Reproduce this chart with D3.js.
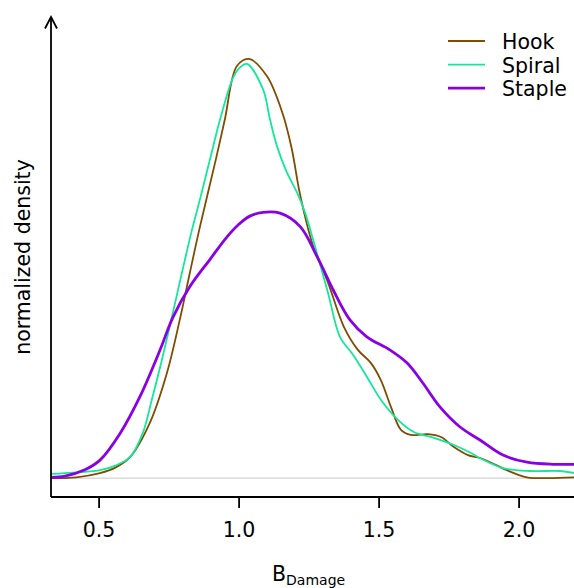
<!DOCTYPE html>
<html>
<head>
<meta charset="utf-8">
<script src="https://cdn.jsdelivr.net/npm/d3@7"></script>
<style>
  body { margin: 0; background: #fff; }
  svg { font-family: "DejaVu Sans", sans-serif; }
</style>
</head>
<body>
<div id="chart"></div>
<script>
// data (x = B_Damage, y = normalized density)
const hookX = [0.33, 0.42, 0.505, 0.56, 0.612, 0.683, 0.744, 0.79, 0.826, 0.862, 0.919, 0.951, 0.994, 1.037, 1.101, 1.158, 1.19, 1.219, 1.265, 1.319, 1.376, 1.426, 1.472, 1.508, 1.544, 1.58, 1.615, 1.676, 1.723, 1.769, 1.819, 1.862, 1.898, 1.958, 2.03, 2.101, 2.2];
const hookY = [0, 0.002, 0.012, 0.025, 0.05, 0.132, 0.251, 0.378, 0.49, 0.6, 0.761, 0.856, 0.983, 1.0, 0.959, 0.868, 0.785, 0.678, 0.556, 0.467, 0.361, 0.306, 0.275, 0.234, 0.17, 0.115, 0.103, 0.105, 0.098, 0.074, 0.055, 0.048, 0.038, 0.019, 0.002, 0, 0.002];

const spiralX = [0.33, 0.38, 0.505, 0.56, 0.612, 0.658, 0.69, 0.726, 0.762, 0.797, 0.833, 0.862, 0.898, 0.934, 0.98, 1.005, 1.03, 1.087, 1.112, 1.137, 1.172, 1.208, 1.237, 1.269, 1.319, 1.362, 1.408, 1.458, 1.508, 1.569, 1.626, 1.698, 1.769, 1.83, 1.87, 1.944, 2.04, 2.148, 2.2];
const spiralY = [0.01, 0.012, 0.019, 0.03, 0.05, 0.108, 0.187, 0.282, 0.385, 0.488, 0.591, 0.665, 0.761, 0.856, 0.955, 0.98, 0.988, 0.928, 0.856, 0.792, 0.73, 0.682, 0.634, 0.562, 0.443, 0.337, 0.295, 0.242, 0.187, 0.139, 0.11, 0.096, 0.079, 0.06, 0.045, 0.024, 0.017, 0.017, 0.012];

const stapleX = [0.33, 0.38, 0.451, 0.505, 0.576, 0.648, 0.719, 0.765, 0.826, 0.898, 0.958, 1.0, 1.04, 1.087, 1.148, 1.22, 1.28, 1.337, 1.397, 1.458, 1.54, 1.601, 1.658, 1.719, 1.791, 1.862, 1.944, 2.03, 2.123, 2.2];
const stapleY = [0.002, 0.005, 0.02, 0.043, 0.106, 0.195, 0.305, 0.383, 0.457, 0.522, 0.575, 0.605, 0.625, 0.634, 0.632, 0.6, 0.529, 0.45, 0.378, 0.337, 0.306, 0.275, 0.227, 0.17, 0.122, 0.091, 0.055, 0.038, 0.033, 0.033];

const seriesNames = ["Hook", "Spiral", "Staple"];
const seriesColors = ["#7f4c00", "#14e79a", "#8a00e6"];
const seriesWidths = [1.8, 1.8, 2.8];
const xTicks = [0.5, 1.0, 1.5, 2.0];

const series = [
  { name: seriesNames[0], xs: hookX, ys: hookY },
  { name: seriesNames[1], xs: spiralX, ys: spiralY },
  { name: seriesNames[2], xs: stapleX, ys: stapleY },
];

const W = 574, H = 588;
const margin = { top: 17, left: 51, bottom: 91 };
const fontSize = 20.5;

const svg = d3.select("#chart").append("svg")
  .attr("width", W).attr("height", H);

const x = d3.scaleLinear().domain([0.33, 2.2]).range([margin.left, margin.left + 1.87 * 280]);
const y = d3.scaleLinear().domain([-0.045, 1.10]).range([H - margin.bottom, margin.top]);

// zero baseline
svg.append("line")
  .attr("x1", x(0.33)).attr("x2", W)
  .attr("y1", y(0)).attr("y2", y(0))
  .attr("stroke", "#c8c8c8").attr("stroke-width", 1);

const line = d3.line()
  .x(d => x(d[0]))
  .y(d => y(d[1]))
  .curve(d3.curveCatmullRom.alpha(0.5));

series.forEach((s, i) => {
  const pts = s.xs.map((v, k) => [v, s.ys[k]]);
  svg.append("path")
    .attr("d", line(pts))
    .attr("fill", "none")
    .attr("stroke", seriesColors[i])
    .attr("stroke-width", seriesWidths[i]);
});

// bottom axis
const xAxis = svg.append("g")
  .attr("transform", `translate(0,${H - margin.bottom})`)
  .call(d3.axisBottom(x).tickValues(xTicks).tickFormat(d3.format(".1f")).tickSize(11).tickPadding(14));
xAxis.select(".domain").attr("d", `M${x(0.33)},0H${W}`).attr("stroke", "#000").attr("stroke-width", 1.8);
xAxis.selectAll(".tick line").attr("stroke", "#000").attr("stroke-width", 1.8);
xAxis.selectAll(".tick text").attr("font-size", fontSize).attr("font-family", "DejaVu Sans").attr("fill", "#000");

// left axis with arrow
svg.append("line")
  .attr("x1", x(0.33)).attr("x2", x(0.33))
  .attr("y1", y(-0.045)).attr("y2", y(1.10))
  .attr("stroke", "#000").attr("stroke-width", 1.8);
svg.append("path")
  .attr("d", `M${x(0.33) - 6},${y(1.10) + 11.5}L${x(0.33)},${y(1.10)}L${x(0.33) + 6},${y(1.10) + 11.5}`)
  .attr("fill", "none").attr("stroke", "#000").attr("stroke-width", 1.8);

// axis labels
svg.append("text")
  .attr("transform", `translate(30,257) rotate(-90)`)
  .attr("text-anchor", "middle")
  .attr("font-size", fontSize)
  .text("normalized density");

const xl = svg.append("text")
  .attr("x", 272).attr("y", 581)
  .attr("font-size", fontSize);
xl.append("tspan").text("B");
xl.append("tspan").attr("font-size", 14).attr("dy", 4).text("Damage");

// legend
const legend = svg.append("g").attr("transform", "translate(448,41)");
seriesNames.forEach((n, i) => {
  const g = legend.append("g").attr("transform", `translate(0,${i * 23.6})`);
  g.append("line").attr("x1", 0).attr("x2", 37).attr("y1", 0).attr("y2", 0)
    .attr("stroke", seriesColors[i]).attr("stroke-width", seriesWidths[i]);
  g.append("text").attr("x", 54).attr("y", 8).attr("font-size", fontSize).text(n);
});
</script>
</body>
</html>
